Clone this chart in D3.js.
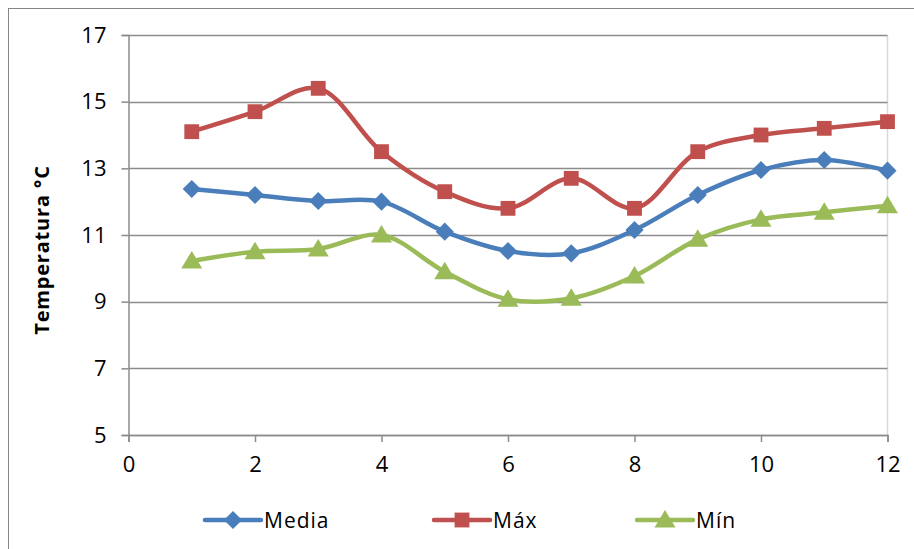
<!DOCTYPE html>
<html>
<head>
<meta charset="utf-8">
<script src="https://cdn.jsdelivr.net/npm/d3@7"></script>
<style>
  html, body { margin: 0; padding: 0; background: #fff; }
  svg { display: block; font-family: "Open Sans", Lato, "Liberation Sans", sans-serif; }
</style>
</head>
<body>
<svg id="chart" width="914" height="549"></svg>
<script>
// Monthly temperature series (°C)
const months = [1, 2, 3, 4, 5, 6, 7, 8, 9, 10, 11, 12];
const media  = [12.38, 12.2, 12.02, 12.0, 11.1, 10.52, 10.45, 11.15, 12.2, 12.95, 13.25, 12.93];
const maxima = [14.1, 14.7, 15.4, 13.5, 12.3, 11.8, 12.7, 11.8, 13.5, 14.0, 14.2, 14.4];
const minima = [10.22, 10.5, 10.58, 11.0, 9.9, 9.07, 9.1, 9.77, 10.87, 11.47, 11.68, 11.88];

const xTicks = [0, 2, 4, 6, 8, 10, 12];
const yTicks = [5, 7, 9, 11, 13, 15, 17];
const yTitle = "Temperatura °C";

const series = [
  { name: "Media", values: media,  color: "#4a7ebb", marker: "diamond" },
  { name: "Máx",   values: maxima, color: "#c0504d", marker: "square" },
  { name: "Mín",   values: minima, color: "#9bbb59", marker: "triangle" }
];

const svg = d3.select("#chart");
const plot = { left: 128.5, right: 887.5, top: 35, bottom: 435 };

const x = d3.scaleLinear().domain([0, 12]).range([plot.left, plot.right]);
const y = d3.scaleLinear().domain([5, 17]).range([plot.bottom, plot.top]);

// Outer chart frame
svg.append("rect")
  .attr("x", 8.5).attr("y", 8.5)
  .attr("width", 920).attr("height", 560)
  .attr("fill", "#fff").attr("stroke", "#868686").attr("stroke-width", 1);

// Right edge of plot area
svg.append("line")
  .attr("x1", plot.right).attr("x2", plot.right)
  .attr("y1", plot.top).attr("y2", plot.bottom)
  .attr("stroke", "#d9d9d9").attr("stroke-width", 1.5);

// Horizontal gridlines
svg.append("g")
  .selectAll("line")
  .data(yTicks)
  .join("line")
  .attr("x1", plot.left).attr("x2", plot.right)
  .attr("y1", d => Math.round(y(d)) + 0.5).attr("y2", d => Math.round(y(d)) + 0.5)
  .attr("stroke", "#8c8c8c").attr("stroke-width", 1.5);

const tickFont = sel => sel
  .attr("font-size", 22).attr("fill", "#000")
  .attr("font-family", "'Open Sans', Lato, sans-serif");

// Y axis
const yAxis = svg.append("g")
  .attr("transform", `translate(${plot.left},0)`)
  .call(d3.axisLeft(y).tickValues(yTicks).tickSize(7).tickPadding(15).tickFormat(d3.format("d")));
yAxis.select(".domain").attr("stroke", "#8c8c8c").attr("stroke-width", 1.5);
yAxis.selectAll(".tick line").attr("stroke", "#8c8c8c").attr("stroke-width", 1.5);
yAxis.selectAll(".tick text").call(tickFont);

// X axis
const xAxis = svg.append("g")
  .attr("transform", `translate(0,${plot.bottom})`)
  .call(d3.axisBottom(x).tickValues(xTicks).tickSize(7).tickPadding(14).tickFormat(d3.format("d")));
xAxis.select(".domain").attr("stroke", "#8c8c8c").attr("stroke-width", 1.5);
xAxis.selectAll(".tick line").attr("stroke", "#8c8c8c").attr("stroke-width", 1.5);
xAxis.selectAll(".tick text").call(tickFont);

// Y axis title
svg.append("text")
  .attr("transform", `translate(49,${(plot.top + plot.bottom) / 2 + 15}) rotate(-90)`)
  .attr("text-anchor", "middle")
  .attr("font-size", 20).attr("font-weight", "bold").attr("fill", "#000")
  .attr("letter-spacing", 0.8)
  .text(yTitle);

// Marker shapes
const markerPath = {
  diamond:  () => d3.symbol().type(d3.symbolDiamond2).size(210)(),
  square:   () => d3.symbol().type(d3.symbolSquare2).size(280)(),
  triangle: () => "M0,-10L10.5,7.5L-10.5,7.5Z"
};

const line = d3.line()
  .x((d, i) => x(months[i]))
  .y(d => y(d))
  .curve(d3.curveCatmullRom.alpha(0.5));

series.forEach(s => {
  const g = svg.append("g");
  g.append("path")
    .attr("d", line(s.values))
    .attr("fill", "none")
    .attr("stroke", s.color)
    .attr("stroke-width", 4.5)
    .attr("stroke-linejoin", "round")
    .attr("stroke-linecap", "round");
  g.selectAll("path.mk")
    .data(s.values)
    .join("path")
    .attr("class", "mk")
    .attr("transform", (d, i) => `translate(${x(months[i])},${y(d)})`)
    .attr("d", markerPath[s.marker])
    .attr("fill", s.color);
});

// Legend
const legendX = [205, 434, 637];
const legendY = 520;
series.forEach((s, i) => {
  const g = svg.append("g").attr("transform", `translate(${legendX[i]},${legendY})`);
  g.append("line")
    .attr("x1", 0).attr("x2", 56).attr("y1", 0).attr("y2", 0)
    .attr("stroke", s.color).attr("stroke-width", 4.5).attr("stroke-linecap", "round");
  g.append("path")
    .attr("transform", "translate(28,0)")
    .attr("d", markerPath[s.marker])
    .attr("fill", s.color);
  g.append("text")
    .attr("x", 59).attr("y", 7.5)
    .attr("font-size", 21).attr("fill", "#000")
    .attr("letter-spacing", 1)
    .text(s.name);
});
</script>
</body>
</html>
